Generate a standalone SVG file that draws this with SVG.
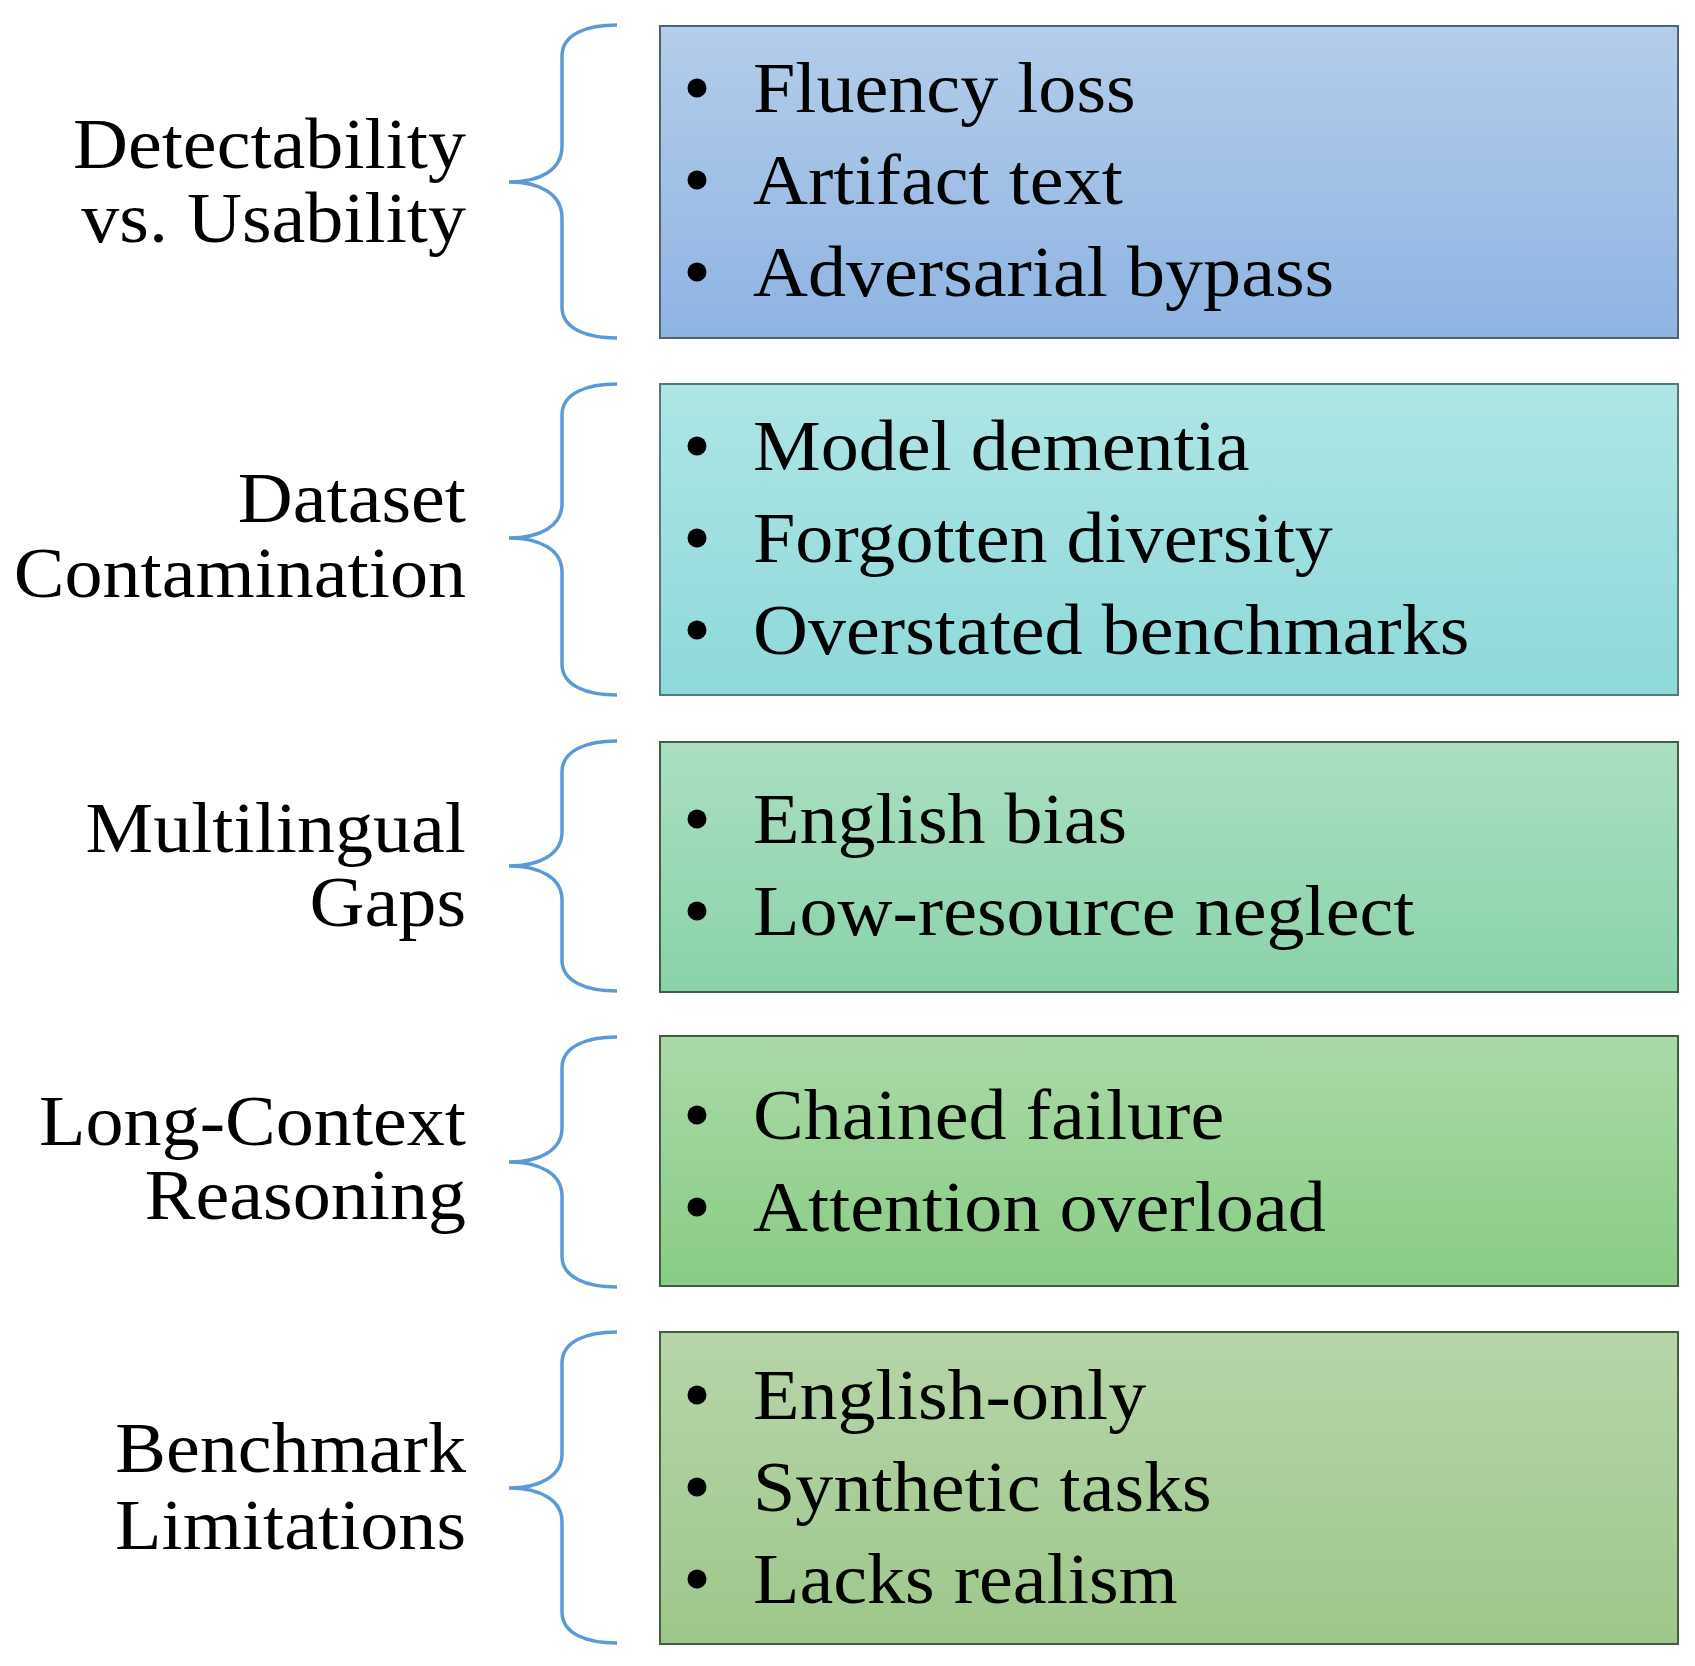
<svg xmlns="http://www.w3.org/2000/svg" width="1695" height="1666" viewBox="0 0 1695 1666">
<defs>
<linearGradient id="g1" x1="0" y1="0" x2="0" y2="1"><stop offset="0" stop-color="#B4CDEA"/><stop offset="1" stop-color="#8EB4E3"/></linearGradient>
<linearGradient id="g2" x1="0" y1="0" x2="0" y2="1"><stop offset="0" stop-color="#AFE5E5"/><stop offset="1" stop-color="#8DD9DA"/></linearGradient>
<linearGradient id="g3" x1="0" y1="0" x2="0" y2="1"><stop offset="0" stop-color="#AADFC1"/><stop offset="1" stop-color="#89D3A9"/></linearGradient>
<linearGradient id="g4" x1="0" y1="0" x2="0" y2="1"><stop offset="0" stop-color="#AADAA7"/><stop offset="1" stop-color="#88CC84"/></linearGradient>
<linearGradient id="g5" x1="0" y1="0" x2="0" y2="1"><stop offset="0" stop-color="#B7D5A9"/><stop offset="1" stop-color="#9EC78A"/></linearGradient>
</defs>
<style>
.box{stroke-width:2}
.brace{fill:none;stroke:#5B9BD5;stroke-width:3.5}
.t{font-family:"Liberation Serif","Times New Roman",serif;font-size:72px;fill:#000}
.lab{text-anchor:end}
.dot{fill:#000}
</style>
<g id="connectors">
<path class="brace" d="M617,25 C587,25 562,34 562,56 L562,146 C562,170 540,182 509,182 C540,182 562,194 562,218 L562,307 C562,329 587,338 617,338"/>
<path class="brace" d="M617,384 C587,384 562,393 562,415 L562,504 C562,526 540,538 509,538 C540,538 562,550 562,572 L562,664 C562,686 587,695 617,695"/>
<path class="brace" d="M617,741 C587,741 562,750 562,772 L562,832 C562,854 540,866 509,866 C540,866 562,878 562,900 L562,960 C562,982 587,991 617,991"/>
<path class="brace" d="M617,1037 C587,1037 562,1046 562,1068 L562,1128 C562,1150 540,1162 509,1162 C540,1162 562,1174 562,1196 L562,1256 C562,1278 587,1287 617,1287"/>
<path class="brace" d="M617,1332 C587,1332 562,1341 562,1363 L562,1454 C562,1476 540,1488 509,1488 C540,1488 562,1500 562,1522 L562,1612 C562,1634 587,1643 617,1643"/>
</g>
<g id="label1"><g transform="scale(1.057,1)"><text class="t lab" x="440.9" y="168">Detectability</text><text class="t lab" x="440.9" y="242">vs. Usability</text></g></g>
<g id="label2"><g transform="scale(1.057,1)"><text class="t lab" x="440.9" y="522">Dataset</text><text class="t lab" x="440.9" y="597">Contamination</text></g></g>
<g id="label3"><g transform="scale(1.057,1)"><text class="t lab" x="440.9" y="852">Multilingual</text><text class="t lab" x="440.9" y="926">Gaps</text></g></g>
<g id="label4"><g transform="scale(1.057,1)"><text class="t lab" x="440.9" y="1145">Long-Context</text><text class="t lab" x="440.9" y="1219">Reasoning</text></g></g>
<g id="label5"><g transform="scale(1.057,1)"><text class="t lab" x="440.9" y="1472">Benchmark</text><text class="t lab" x="440.9" y="1549">Limitations</text></g></g>
<g id="box1">
<rect class="box" x="660" y="26" width="1018" height="312" fill="url(#g1)" stroke="#4F6278"/>
<circle class="dot" cx="697" cy="88" r="9.5"/><circle class="dot" cx="697" cy="180" r="9.5"/><circle class="dot" cx="697" cy="272" r="9.5"/>
<g transform="scale(1.057,1)"><text class="t" x="712.4" y="112">Fluency loss</text><text class="t" x="712.4" y="204">Artifact text</text><text class="t" x="712.4" y="296">Adversarial bypass</text></g>
</g>
<g id="box2">
<rect class="box" x="660" y="384" width="1018" height="311" fill="url(#g2)" stroke="#557878"/>
<circle class="dot" cx="697" cy="446" r="9.5"/><circle class="dot" cx="697" cy="538" r="9.5"/><circle class="dot" cx="697" cy="630" r="9.5"/>
<g transform="scale(1.057,1)"><text class="t" x="712.4" y="470">Model dementia</text><text class="t" x="712.4" y="562">Forgotten diversity</text><text class="t" x="712.4" y="654">Overstated benchmarks</text></g>
</g>
<g id="box3">
<rect class="box" x="660" y="742" width="1018" height="250" fill="url(#g3)" stroke="#3F5F48"/>
<circle class="dot" cx="697" cy="819" r="9.5"/><circle class="dot" cx="697" cy="911" r="9.5"/>
<g transform="scale(1.057,1)"><text class="t" x="712.4" y="843">English bias</text><text class="t" x="712.4" y="935">Low-resource neglect</text></g>
</g>
<g id="box4">
<rect class="box" x="660" y="1036" width="1018" height="250" fill="url(#g4)" stroke="#3F5F42"/>
<circle class="dot" cx="697" cy="1115" r="9.5"/><circle class="dot" cx="697" cy="1207" r="9.5"/>
<g transform="scale(1.057,1)"><text class="t" x="712.4" y="1139">Chained failure</text><text class="t" x="712.4" y="1231">Attention overload</text></g>
</g>
<g id="box5">
<rect class="box" x="660" y="1332" width="1018" height="312" fill="url(#g5)" stroke="#44603E"/>
<circle class="dot" cx="697" cy="1395" r="9.5"/><circle class="dot" cx="697" cy="1487" r="9.5"/><circle class="dot" cx="697" cy="1579" r="9.5"/>
<g transform="scale(1.057,1)"><text class="t" x="712.4" y="1419">English-only</text><text class="t" x="712.4" y="1511">Synthetic tasks</text><text class="t" x="712.4" y="1603">Lacks realism</text></g>
</g>
</svg>
